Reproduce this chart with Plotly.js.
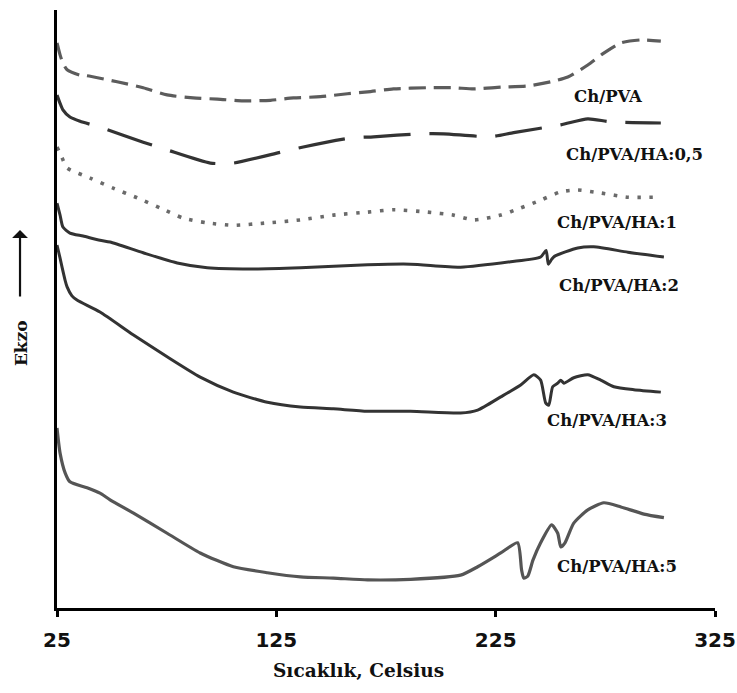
<!DOCTYPE html>
<html>
<head>
<meta charset="utf-8">
<script src="https://cdn.plot.ly/plotly-3.0.1.min.js"></script>
<style>
  html, body { margin: 0; padding: 0; background: #fff; }
  #chart { width: 737px; height: 693px; }
</style>
</head>
<body>
<div id="chart"></div>
<script>
// DSC thermograms, temperature (°C) vs. heat flow (arbitrary units, exo up)

const seriesNames = ['Ch/PVA', 'Ch/PVA/HA:0,5', 'Ch/PVA/HA:1', 'Ch/PVA/HA:2', 'Ch/PVA/HA:3', 'Ch/PVA/HA:5'];

const tempChPVA = [25, 26.4, 27.7, 29.6, 35.5, 38.7, 52.4, 64.3, 75.2, 87.1, 98.1, 109.9, 122.3, 132.8, 145.1, 157.4, 166.6, 178.4, 194.0, 205.8, 215.0, 227.3, 239.6, 250.1, 257.9, 267.0, 274.3, 282.1, 291.2, 300.3];
const flowChPVA = [94.5, 92.5, 91.1, 90.0, 89.1, 89.0, 88.0, 87.0, 85.8, 85.3, 85.1, 84.8, 84.9, 85.3, 85.5, 86.0, 86.3, 86.8, 87.0, 87.0, 86.8, 87.1, 87.3, 88.0, 88.8, 90.8, 92.8, 94.5, 95.0, 94.8];

const tempHA05 = [25, 26.4, 27.7, 30.9, 35.5, 44.6, 64.3, 75.2, 94.9, 105.4, 126.8, 137.3, 158.8, 169.3, 190.8, 201.3, 222.7, 233.2, 254.7, 267.0, 277.5, 300.3];
const flowHA05 = [85.8, 84.4, 83.3, 82.1, 81.4, 80.4, 77.9, 76.6, 74.4, 74.4, 76.2, 77.1, 78.6, 78.8, 79.3, 79.3, 78.8, 79.5, 80.8, 81.8, 81.3, 81.1];

const tempHA1 = [25, 27.3, 29.6, 40.1, 50.6, 61.5, 72.0, 82.5, 93.5, 105.4, 120.9, 136.0, 151.0, 166.6, 178.4, 194.0, 205.8, 215.0, 227.3, 236.4, 245.5, 254.7, 262.4, 272.9, 285.3, 299.0];
const flowHA1 = [77.1, 75.3, 73.6, 71.9, 70.2, 68.6, 66.9, 65.2, 64.4, 64.0, 64.4, 64.9, 65.7, 66.2, 66.6, 66.2, 65.7, 64.9, 65.7, 66.9, 68.2, 69.6, 69.9, 69.4, 68.7, 68.7];

const tempHA2 = [25, 26.4, 27.7, 30.9, 36.9, 44.6, 49.2, 64.3, 79.8, 93.5, 113.1, 136.0, 166.6, 186.2, 209.0, 231.8, 245.5, 248.0, 249.0, 250.5, 251.8, 262.4, 269.7, 285.3, 301.7];
const flowHA2 = [67.7, 65.7, 63.7, 62.7, 62.2, 61.5, 61.2, 59.4, 57.7, 56.9, 56.7, 56.9, 57.4, 57.5, 57.0, 57.9, 58.7, 59.8, 57.5, 58.3, 58.8, 60.2, 60.4, 59.5, 58.7];

const tempHA3 = [25, 26.4, 27.3, 28.7, 29.6, 31.8, 34.1, 44.6, 59.7, 75.2, 90.3, 105.4, 120.9, 136.0, 151.0, 166.6, 186.2, 209.0, 216.8, 227.3, 236.4, 242.4, 245.5, 247.8, 249.2, 251.0, 253.3, 254.7, 256.1, 260.6, 267.0, 272.9, 278.9, 288.0, 300.3];
const flowHA3 = [60.7, 58.5, 57.0, 54.8, 53.7, 52.2, 51.5, 49.5, 45.7, 42.0, 38.6, 36.1, 34.4, 33.6, 33.3, 32.9, 32.9, 32.6, 33.1, 35.3, 37.3, 39.0, 38.1, 34.3, 33.9, 37.0, 37.6, 38.1, 37.6, 38.5, 39.0, 38.1, 37.0, 36.5, 36.1];

const tempHA5 = [25, 26.4, 28.7, 30.9, 38.7, 44.6, 49.2, 59.7, 75.2, 90.3, 105.4, 120.9, 136.0, 151.0, 166.6, 186.2, 209.0, 216.8, 227.3, 235.0, 236.8, 237.8, 239.6, 242.0, 245.5, 250.5, 253.3, 254.7, 256.6, 260.6, 267.0, 274.3, 282.1, 292.6, 301.7];
const flowHA5 = [30.1, 25.9, 22.6, 21.1, 20.1, 19.2, 18.1, 15.9, 12.5, 9.2, 6.9, 5.9, 5.2, 5.0, 4.7, 4.8, 5.5, 6.9, 9.2, 10.9, 6.4, 5.0, 5.3, 8.0, 10.9, 13.9, 12.5, 10.2, 10.9, 14.2, 16.4, 17.6, 16.9, 15.7, 15.1];

const xTicks = [25, 125, 225, 325];

// label anchor points (°C, a.u.) next to each curve's tail
const labelTemp = [276.1, 288.5, 280.3, 281.2, 275.7, 280.3];
const labelFlow = [85.5, 75.8, 64.5, 54.0, 31.3, 7.0];

const curves = [
  { x: tempChPVA, y: flowChPVA, color: '#5c5c5c', dash: '17px,8px', width: 3.2 },
  { x: tempHA05,  y: flowHA05,  color: '#333333', dash: '47px,19px', width: 3.2 },
  { x: tempHA1,   y: flowHA1,   color: '#6a6a6a', dash: '3.5px,8.5px', width: 3.6 },
  { x: tempHA2,   y: flowHA2,   color: '#333333', dash: 'solid', width: 3 },
  { x: tempHA3,   y: flowHA3,   color: '#333333', dash: 'solid', width: 3 },
  { x: tempHA5,   y: flowHA5,   color: '#555555', dash: 'solid', width: 3.2 }
];

const traces = curves.map((c, i) => ({
  type: 'scatter',
  mode: 'lines',
  name: seriesNames[i],
  x: c.x,
  y: c.y,
  line: { color: c.color, width: c.width, dash: c.dash, shape: 'spline', smoothing: 0.6 },
  hoverinfo: 'x+name'
}));

const serifBold = { family: 'DejaVu Serif', size: 16.5, color: '#111', weight: 'bold' };

const annotations = seriesNames.map((name, i) => ({
  xref: 'x', yref: 'y',
  x: labelTemp[i], y: labelFlow[i],
  text: name,
  showarrow: false,
  font: serifBold,
  xanchor: 'center', yanchor: 'middle'
}));

// y-axis caption with its upward arrow
annotations.push({
  xref: 'paper', yref: 'paper',
  x: -0.0547, y: 0.443,
  text: 'Ekzo',
  textangle: -90,
  showarrow: false,
  font: { family: 'DejaVu Serif', size: 17, color: '#111', weight: 'bold' },
  xanchor: 'center', yanchor: 'middle'
});
annotations.push({
  xref: 'paper', yref: 'paper',
  x: -0.0562, y: 0.632,
  text: '',
  showarrow: true,
  arrowhead: 1,
  arrowsize: 1.2,
  arrowwidth: 2.2,
  arrowcolor: '#111',
  ax: 0, ay: 68
});
// x-axis caption
annotations.push({
  xref: 'paper', yref: 'paper',
  x: (358 - 57) / 658, y: (608 - 670) / 598,
  text: 'Sıcaklık, Celsius',
  showarrow: false,
  font: { family: 'DejaVu Serif', size: 18.5, color: '#111', weight: 'bold' },
  xanchor: 'center', yanchor: 'middle'
});

const layout = {
  width: 737,
  height: 693,
  margin: { l: 57, r: 22, t: 10, b: 85 },
  paper_bgcolor: '#ffffff',
  plot_bgcolor: '#ffffff',
  showlegend: false,
  xaxis: {
    range: [25, 325],
    tickvals: xTicks,
    ticktext: xTicks.map(String),
    ticks: 'outside',
    ticklen: 6,
    tickwidth: 3,
    tickcolor: '#000',
    ticklabelstandoff: 6,
    tickfont: { family: 'DejaVu Sans', size: 20, color: '#111', weight: 'bold' },
    showline: true,
    linecolor: '#000',
    linewidth: 3,
    showgrid: false,
    zeroline: false
  },
  yaxis: {
    range: [0, 100],
    showticklabels: false,
    ticks: '',
    showline: true,
    linecolor: '#000',
    linewidth: 3,
    showgrid: false,
    zeroline: false
  },
  annotations: annotations
};

Plotly.newPlot('chart', traces, layout, { displayModeBar: false, staticPlot: true });
</script>
</body>
</html>
